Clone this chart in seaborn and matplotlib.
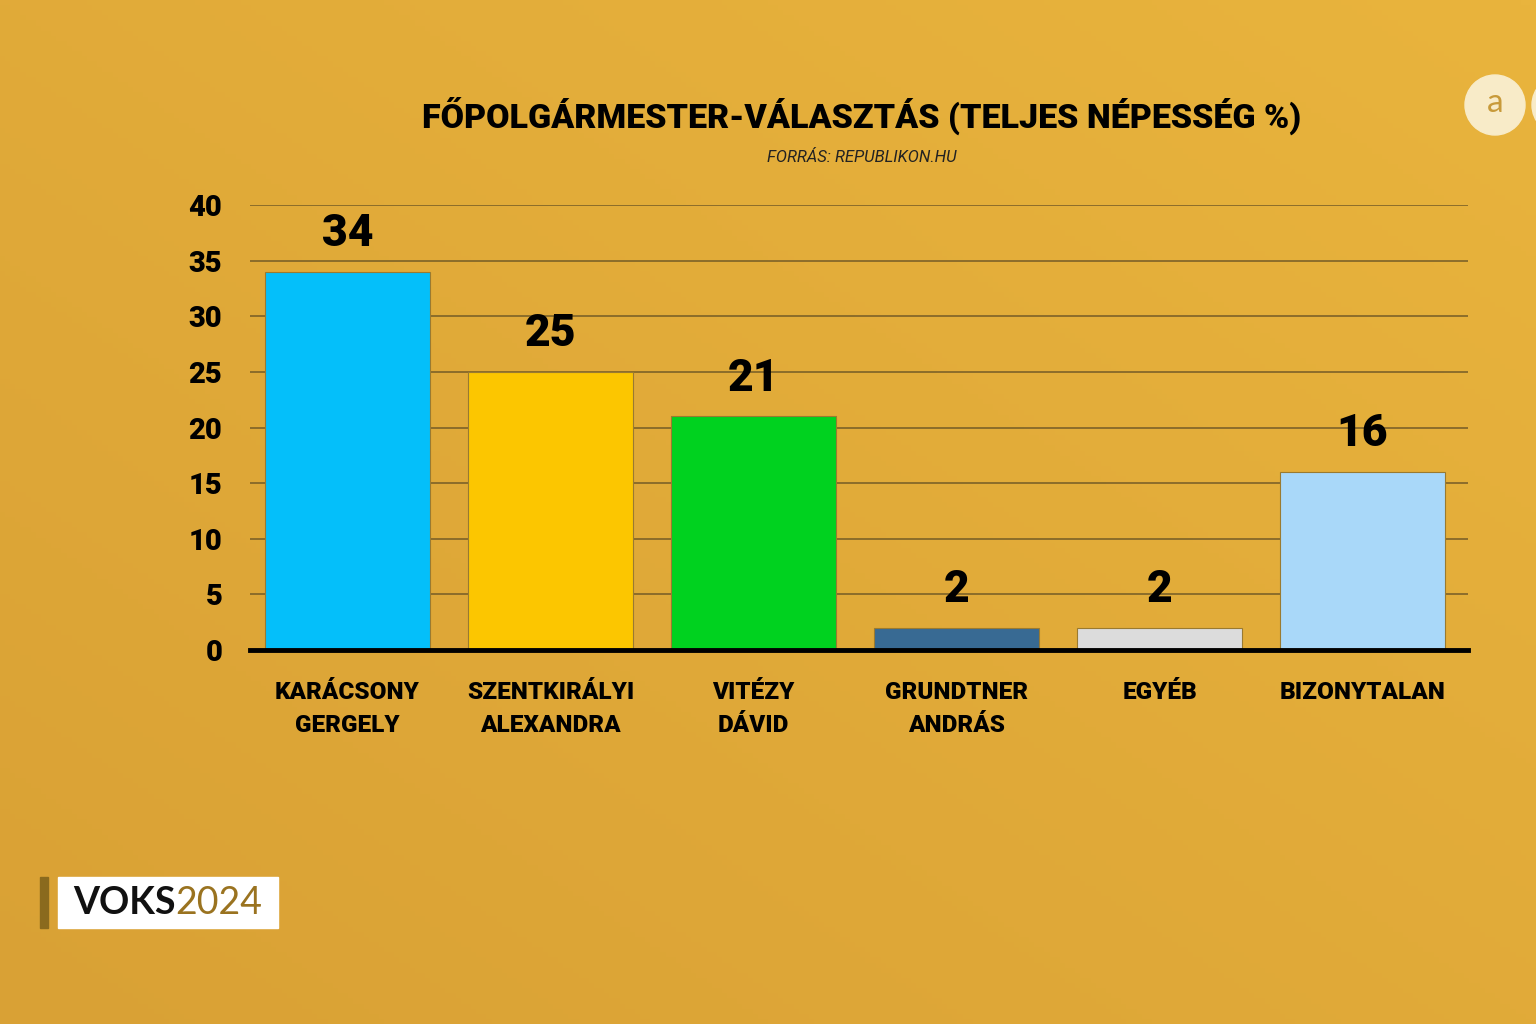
import numpy as np
import pandas as pd
import seaborn as sns
import matplotlib.pyplot as plt
from matplotlib.patches import Rectangle, Ellipse

# data
categories = ["KARÁCSONY\nGERGELY", "SZENTKIRÁLYI\nALEXANDRA", "VITÉZY\nDÁVID",
              "GRUNDTNER\nANDRÁS", "EGYÉB", "BIZONYTALAN"]
values = [34, 25, 21, 2, 2, 16]
bar_colors = ["#04BFFA", "#FCC600", "#00D21F", "#386A93", "#DCDCDC", "#A9D8F9"]
y_ticks = [0, 5, 10, 15, 20, 25, 30, 35, 40]

title = "FŐPOLGÁRMESTER-VÁLASZTÁS (TELJES NÉPESSÉG %)"
source = "FORRÁS: REPUBLIKON.HU"

sns.set_style("white")
plt.rcParams['font.family'] = ['Roboto', 'DejaVu Sans']
plt.rcParams['text.color'] = 'black'
plt.rcParams['ytick.color'] = 'black'
plt.rcParams['xtick.color'] = 'black'

bg = "#E0A938"
fig = plt.figure(figsize=(15.36, 10.24), dpi=100)
fig.patch.set_facecolor(bg)

# soft background gradient
bg_ax = fig.add_axes([0, 0, 1, 1], zorder=-10)
gy, gx = np.mgrid[0:1:200j, 0:1:300j]
grad = 0.5 * gx + 0.5 * (1 - gy)
bg_ax.imshow(grad, cmap=sns.blend_palette(["#D9A135", "#E9B43D"], as_cmap=True),
             aspect="auto", extent=[0, 1, 0, 1], origin="upper")
bg_ax.axis("off")

ax = fig.add_axes([0.1628, 0.3652, 0.7930, 0.4346])
ax.set_facecolor("none")

df = pd.DataFrame({"cat": categories, "val": values})
sns.barplot(data=df, x="cat", y="val", hue="cat", palette=bar_colors,
            width=0.81, legend=False, ax=ax, saturation=1,
            edgecolor="#9a7a30", linewidth=0.8, zorder=3)

ax.set_xlim(-0.48, 5.52)
ax.set_ylim(0, 40)
ax.set_yticks(y_ticks)
ax.set_yticklabels([str(t) for t in y_ticks], fontsize=21, fontweight="heavy",
                   color="black")
ax.yaxis.grid(True, color="#7d6228", linewidth=1.2, zorder=0)
ax.set_axisbelow(True)
ax.tick_params(axis="y", length=0, pad=20)
ax.tick_params(axis="x", length=0, pad=22)
ax.set_xticks(range(len(categories)))
ax.set_xticklabels(categories, fontsize=17.5, fontweight="heavy", linespacing=1.6,
                   va="top", color="black")
ax.set_xlabel("")
ax.set_ylabel("")
for s in ["top", "right", "left"]:
    ax.spines[s].set_visible(False)
ax.spines["bottom"].set_color("black")
ax.spines["bottom"].set_linewidth(3.5)
ax.spines["bottom"].set_zorder(5)

for i, v in enumerate(values):
    ax.text(i, v + 1.5, str(v), ha="center", va="bottom", fontsize=32,
            fontweight="heavy", color="black", clip_on=False)

fig.text(0.561, 0.887, title, ha="center", va="center", fontsize=24.5,
         fontweight="heavy", color="black")
fig.text(0.561, 0.846, source, ha="center", va="center", fontsize=12,
         style="italic", color="#222222")

# VOKS2024 badge
fig.patches.append(Rectangle((40 / 1536, 1 - 928 / 1024), 8 / 1536, 51 / 1024,
                             transform=fig.transFigure, color="#8a6a1e"))
fig.patches.append(Rectangle((58 / 1536, 1 - 928 / 1024), 220 / 1536, 51 / 1024,
                             transform=fig.transFigure, color="white"))
t1 = fig.text(73 / 1536, 1 - 903 / 1024, "VOKS", ha="left", va="center",
              fontsize=27, fontweight="bold", color="#111111", family="Lato")
fig.canvas.draw()
bb = t1.get_window_extent()
fig.text(bb.x1 / 1536, 1 - 903 / 1024, "2024", ha="left", va="center",
         fontsize=27, color="#9a7320", family="Lato")

# channel logo, top right
for cx in (1495, 1562):
    fig.patches.append(Ellipse((cx / 1536, 1 - 105 / 1024), 60 / 1536, 60 / 1024,
                               transform=fig.transFigure, color="#F8EBC8"))
fig.text(1495 / 1536, 1 - 103 / 1024, "a", ha="center", va="center",
         fontsize=24, color="#C89A3A", family="Lato")

fig.savefig("out.png", dpi=100, facecolor=bg)
